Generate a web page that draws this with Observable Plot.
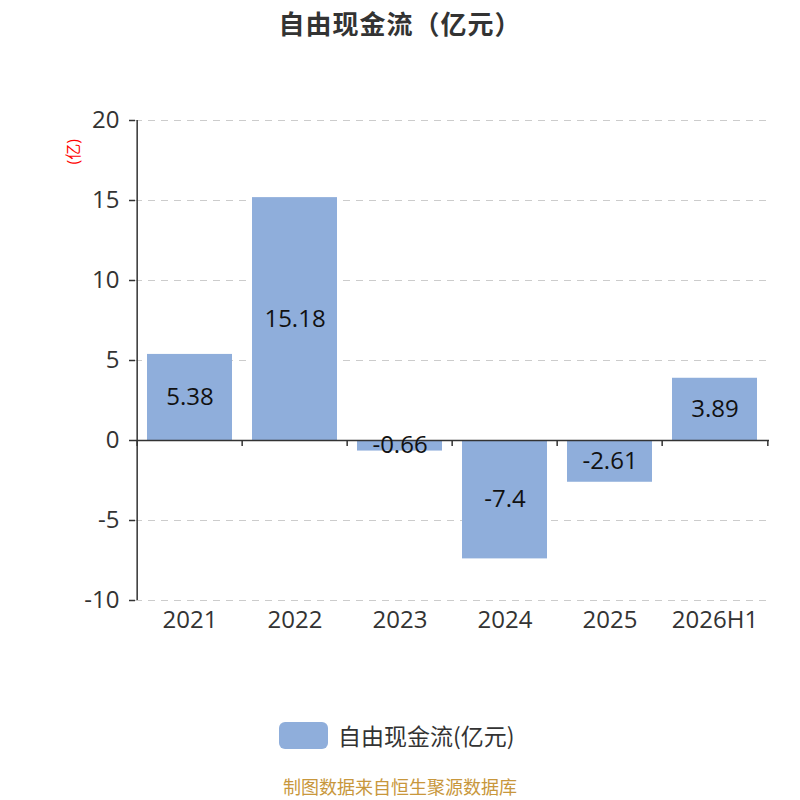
<!DOCTYPE html>
<html>
<head>
<meta charset="utf-8">
<script src="https://cdn.jsdelivr.net/npm/d3@7"></script>
<script src="https://cdn.jsdelivr.net/npm/@observablehq/plot@0.6"></script>
<style>
  body { margin: 0; background: #fff; }
  #wrap { position: relative; width: 800px; height: 800px; overflow: hidden; font-family: "Open Sans", "Noto Sans CJK SC", sans-serif; }
  #title { position: absolute; top: 0; left: 0; width: 800px; height: 46px; line-height: 46px; text-align: center; font-size: 26px; font-weight: bold; color: #333; letter-spacing: 1px; font-family: "Noto Sans CJK SC", sans-serif; }
  #chart { position: absolute; top: 50px; left: 0; }
  #legend { position: absolute; top: 722px; left: 279px; height: 27px; display: flex; align-items: center; }
  #legend .sw { width: 49px; height: 27px; border-radius: 6px; background: #8faedb; margin-right: 10px; }
  #legend .lt { font-size: 23px; line-height: 27px; color: #333; font-family: "Noto Sans CJK SC", sans-serif; }
  #footer { position: absolute; top: 775px; left: 0; width: 800px; height: 22px; line-height: 22px; text-align: center; font-size: 18px; color: #c8973c; font-family: "Noto Sans CJK SC", sans-serif; }
</style>
</head>
<body>
<div id="wrap">
  <div id="title"></div>
  <div id="chart"></div>
  <div id="legend"><div class="sw"></div><div class="lt"></div></div>
  <div id="footer"></div>
</div>
<script>
const categories = ["2021", "2022", "2023", "2024", "2025", "2026H1"];
const values = [5.38, 15.18, -0.66, -7.4, -2.61, 3.89];
const yTicks = [-10, -5, 0, 5, 10, 15, 20];
const gridTicks = [-10, -5, 5, 10, 15, 20];
const titleText = "自由现金流（亿元）";
const seriesName = "自由现金流(亿元)";
const unitLabel = "(亿)";
const sourceText = "制图数据来自恒生聚源数据库";

document.getElementById("title").textContent = titleText;
document.querySelector("#legend .lt").textContent = seriesName;
document.getElementById("footer").textContent = sourceText;

const data = categories.map((c, i) => ({cat: c, value: values[i]}));
const W = 800, H = 650;
const mL = 135, mR = 31, mT = 70, mB = 100;
const step = (W - mL - mR) / categories.length;
const tickLen = 6 / ((H - mT - mB) / 30);

const chart = Plot.plot({
  width: W,
  height: H,
  marginLeft: mL,
  marginRight: mR,
  marginTop: mT,
  marginBottom: mB,
  style: {fontFamily: '"Open Sans", "Noto Sans CJK SC", sans-serif', background: "transparent"},
  x: {domain: categories, padding: 0, axis: null},
  y: {domain: [-10, 20], axis: null},
  marks: [
    Plot.gridY(gridTicks, {stroke: "#cccccc", strokeOpacity: 1, strokeDasharray: "7,6", strokeWidth: 1.2}),
    Plot.barY(data, {x: "cat", y: "value", fill: "#8faedb", insetLeft: 10, insetRight: 10}),
    Plot.ruleY([0], {stroke: "#333", strokeWidth: 1.5}),
    Plot.ruleX(categories, {x: d => d, y1: 0, y2: -tickLen, dx: -step / 2, stroke: "#333", strokeWidth: 1.5}),
    Plot.ruleX([categories[categories.length - 1]], {x: d => d, y1: 0, y2: -tickLen, dx: step / 2, stroke: "#333", strokeWidth: 1.5}),
    Plot.ruleX([categories[0]], {x: d => d, y1: -10, y2: 20, dx: -step / 2, stroke: "#333", strokeWidth: 1.5}),
    Plot.axisY(yTicks, {tickSize: 6, tickPadding: 10, fontSize: 24, fill: "#333", stroke: "#333", strokeWidth: 1.5, label: null, tickFormat: d => String(d)}),
    Plot.text(data, {x: "cat", y: d => d.value / 2, text: d => String(d.value), fontSize: 24, fill: "#111"}),
    Plot.text(categories, {x: d => d, frameAnchor: "bottom", dy: 27, fontSize: 24, fill: "#333"}),
    Plot.text([unitLabel], {frameAnchor: "top-left", dx: -68, dy: 44, rotate: -90, fill: "red", fontSize: 16})
  ]
});
document.getElementById("chart").appendChild(chart);
</script>
</body>
</html>
